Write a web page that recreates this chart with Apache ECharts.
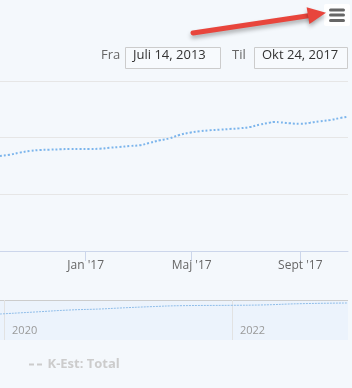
<!DOCTYPE html>
<html>
<head>
<meta charset="utf-8">
<script src="https://cdn.jsdelivr.net/npm/echarts@6/dist/echarts.min.js"></script>
<style>
  html, body { margin: 0; padding: 0; background: #f4f8fc; }
  #chart { width: 352px; height: 388px; }
</style>
</head>
<body>
<div id="chart"></div>
<script>
// hovedserie (læst af billedet)
const dates = [
  '2016-09-26', '2016-10-07', '2016-10-18', '2016-10-30', '2016-11-10', '2016-11-21',
  '2016-12-03', '2016-12-14', '2016-12-25', '2017-01-05', '2017-01-17', '2017-01-28',
  '2017-02-08', '2017-02-20', '2017-03-03', '2017-03-14', '2017-03-26', '2017-04-06',
  '2017-04-17', '2017-04-29', '2017-05-10', '2017-05-21', '2017-06-02', '2017-06-13',
  '2017-06-24', '2017-07-06', '2017-07-17', '2017-07-28', '2017-08-03', '2017-08-09',
  '2017-08-20', '2017-09-01', '2017-09-12', '2017-09-23', '2017-10-05', '2017-10-16',
  '2017-10-25'
];
const values = [
  167.6, 169.9, 173.5, 176.5, 178.2, 178.8,
  179.5, 180, 180, 180, 180.5, 182.3,
  183.5, 185.3, 186.5, 190.6, 195.4, 198.9,
  204.7, 208.8, 211.2, 213, 214.1, 215.3,
  216.5, 218.8, 222.9, 226.4, 227.6, 227.1,
  225.4, 224.6, 226.4, 228.9, 231.2, 234.7,
  237
];

// navigator
const navDates = [
  '2019-12-19', '2020-04-09', '2020-07-30', '2020-11-04', '2021-01-07', '2021-04-13',
  '2021-07-18', '2022-01-01', '2022-04-01', '2022-08-07', '2023-01-08'
];
const navValues = [260, 280, 300, 310, 320, 333, 343, 347, 350, 363, 370];

const xTicks = ['2017-01-01', '2017-05-01', '2017-09-01'];
const navTicks = ['2020-01-01', '2022-01-01'];
const months = ['Jan', 'Feb', 'Mar', 'Apr', 'Maj', 'Jun', 'Jul', 'Aug', 'Sept', 'Okt', 'Nov', 'Dec'];

const fromText = 'Juli 14, 2013';
const toText = 'Okt 24, 2017';

const ts = s => new Date(s + 'T00:00:00Z').getTime();

const chart = echarts.init(document.getElementById('chart'), null, { renderer: 'canvas' });

const font = '"Open Sans", sans-serif';

chart.setOption({
  backgroundColor: '#f4f8fc',
  animation: false,
  textStyle: { fontFamily: font },
  legend: {
    data: ['K-Est: Total'],
    selected: { 'K-Est: Total': false },
    left: 24,
    top: 353,
    icon: 'path://M0,0h5v2h-5z M8,0h5v2h-5z',
    itemWidth: 14,
    itemHeight: 2,
    itemGap: 6,
    inactiveColor: '#cccccc',
    inactiveBorderColor: '#cccccc',
    textStyle: { fontFamily: font, fontSize: 13, fontWeight: 'bold', color: '#333' }
  },
  grid: [
    { left: 0, right: 4, top: 81, bottom: 137 },
    { left: 0, right: 4, top: 300, bottom: 48, show: true,
      backgroundColor: '#ecf3fc', borderWidth: 0 }
  ],
  xAxis: [
    {
      type: 'value',
      gridIndex: 0,
      min: ts('2016-09-26'),
      max: ts('2017-10-25'),
      axisLine: { lineStyle: { color: '#ccd6eb' } },
      axisTick: {
        show: true, length: 10,
        customValues: xTicks.map(ts),
        lineStyle: { color: '#ccd6eb' }
      },
      axisLabel: {
        customValues: xTicks.map(ts),
        margin: 9,
        fontSize: 12,
        color: '#666',
        fontFamily: font,
        formatter: v => {
          const d = new Date(v);
          return months[d.getUTCMonth()] + " '" + String(d.getUTCFullYear()).slice(2);
        }
      },
      splitLine: { show: false }
    },
    {
      type: 'value',
      gridIndex: 1,
      min: ts('2019-12-19'),
      max: ts('2023-01-08'),
      axisLine: { show: false },
      axisTick: { show: false, customValues: navTicks.map(ts) },
      splitLine: {
        show: true,
        lineStyle: { color: '#e2e2e2' }
      },
      axisLabel: {
        customValues: navTicks.map(ts),
        inside: true,
        align: 'left',
        margin: 4,
        padding: [0, 0, 0, 8],
        fontSize: 11,
        color: '#999',
        fontFamily: font,
        formatter: v => String(new Date(v).getUTCFullYear())
      }
    }
  ],
  yAxis: [
    {
      type: 'value',
      gridIndex: 0,
      min: 0,
      max: 300,
      interval: 100,
      axisLabel: { show: false },
      axisLine: { show: false },
      axisTick: { show: false },
      splitLine: { lineStyle: { color: '#e6e6e6' } }
    },
    {
      type: 'value',
      gridIndex: 1,
      min: 0,
      max: 400,
      axisLabel: { show: false },
      axisLine: { show: false },
      axisTick: { show: false },
      splitLine: { show: false }
    }
  ],
  series: [
    {
      name: 'Vurdering',
      type: 'line',
      xAxisIndex: 0,
      yAxisIndex: 0,
      data: dates.map((d, i) => [ts(d), values[i]]),
      smooth: true,
      showSymbol: false,
      lineStyle: { color: '#7cb5ec', width: 2, type: [2, 2] }
    },
    {
      name: 'K-Est: Total',
      type: 'line',
      xAxisIndex: 0,
      yAxisIndex: 0,
      data: dates.map((d, i) => [ts(d), values[i]]),
      showSymbol: false,
      lineStyle: { color: '#434348', width: 2, type: 'dashed' }
    },
    {
      name: 'nav',
      type: 'line',
      xAxisIndex: 1,
      yAxisIndex: 1,
      data: navDates.map((d, i) => [ts(d), navValues[i]]),
      smooth: true,
      showSymbol: false,
      lineStyle: { color: '#8fbde9', width: 1, type: [2, 1] }
    }
  ],
  graphic: [
    // navigator øverste kant
    { type: 'line', shape: { x1: 0, y1: 300.5, x2: 348, y2: 300.5 },
      style: { stroke: '#cccccc', lineWidth: 1 } },
    // periodevælger
    { type: 'text', left: 101, top: 49,
      style: { text: 'Fra', font: '13px ' + font, fill: '#666' } },
    { type: 'rect', shape: { x: 125.5, y: 47.5, width: 95, height: 21 },
      style: { fill: '#f7fafd', stroke: '#cccccc', lineWidth: 1 } },
    { type: 'text', left: 133, top: 49,
      style: { text: fromText, font: '13px ' + font, fill: '#333' } },
    { type: 'text', left: 232, top: 49,
      style: { text: 'Til', font: '13px ' + font, fill: '#666' } },
    { type: 'rect', shape: { x: 254.5, y: 47.5, width: 93, height: 21 },
      style: { fill: '#f7fafd', stroke: '#cccccc', lineWidth: 1 } },
    { type: 'text', left: 262, top: 49,
      style: { text: toText, font: '13px ' + font, fill: '#333' } },
    // menuknap
    { type: 'rect', shape: { x: 324, y: 4, width: 26, height: 22, r: 2 },
      style: { fill: '#ffffff' } },
    { type: 'rect', shape: { x: 329, y: 8.5, width: 16, height: 3, r: 1.5 }, style: { fill: '#666' } },
    { type: 'rect', shape: { x: 329, y: 13.5, width: 16, height: 3, r: 1.5 }, style: { fill: '#666' } },
    { type: 'rect', shape: { x: 329, y: 19, width: 16, height: 3, r: 1.5 }, style: { fill: '#666' } },
    // rød pil
    { type: 'line', shape: { x1: 193, y1: 33, x2: 310, y2: 15.5 },
      style: { stroke: '#e8453c', lineWidth: 5, lineCap: 'round',
        shadowBlur: 4, shadowOffsetY: 3, shadowColor: 'rgba(0,0,0,0.3)' } },
    { type: 'polygon', shape: { points: [[326, 12.8], [306.6, 7.2], [309.4, 24]] },
      style: { fill: '#e8453c', shadowBlur: 4, shadowOffsetY: 3, shadowColor: 'rgba(0,0,0,0.3)' } }
  ]
});
</script>
</body>
</html>
